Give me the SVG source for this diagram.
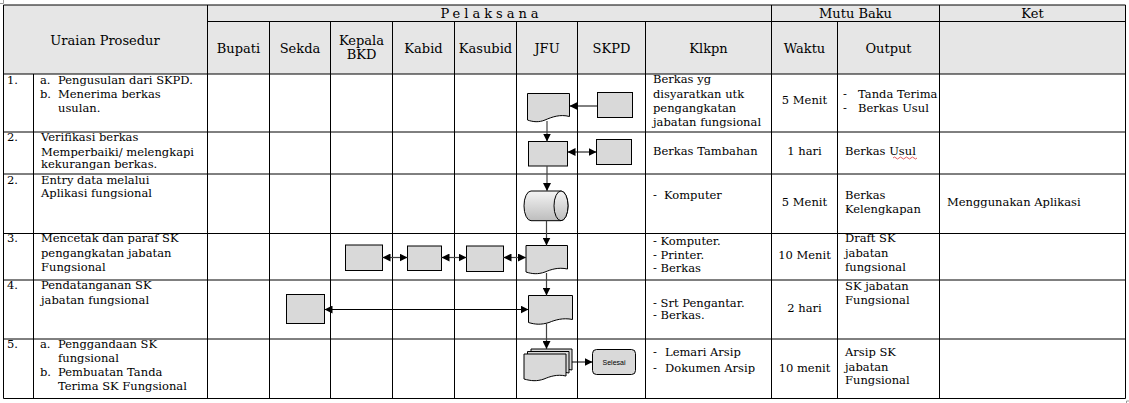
<svg xmlns="http://www.w3.org/2000/svg" width="1129" height="403" viewBox="0 0 1129 403">
<style>
text{font-family:"DejaVu Serif","Liberation Serif",serif;font-size:11.5px;fill:#000}
.c{text-anchor:middle}
.h{font-size:13px}
.g{stroke:#000;stroke-width:1;fill:none}
.box{fill:#d9d9d9;stroke:#000;stroke-width:1}
.con{stroke:#000;stroke-width:1;fill:none}
.cv{stroke:#444;stroke-width:1.2;fill:none}
.sel{font-family:"Liberation Sans","DejaVu Sans",sans-serif;font-size:7px}
</style>
<defs>
<marker id="ah" viewBox="0 0 8 8" refX="8" refY="4" markerWidth="8" markerHeight="8" markerUnits="userSpaceOnUse" orient="auto-start-reverse">
<path d="M0,0 L8,4 L0,8 z" fill="#000"/>
</marker>
<linearGradient id="cyl" x1="0" y1="0" x2="0" y2="1">
<stop offset="0" stop-color="#f4f4f4"/>
<stop offset="1" stop-color="#bdbdbd"/>
</linearGradient>
</defs>
<g id="table">
<rect x="3.5" y="5" width="1122" height="69" fill="#e6e6e6"/>
<path class="g" d="M3.5,5 H1125.5 V398.5 H3.5 Z"/>
<path class="g" d="M207.5,21.5 H1125.5 M3.5,74 H1125.5 M3.5,132 H1125.5 M3.5,174 H1125.5 M3.5,233.5 H1125.5 M3.5,280 H1125.5 M3.5,339 H1125.5"/>
<path class="g" d="M33.5,74 V398.5 M207.5,5 V398.5 M771.5,5 V398.5 M939.5,5 V398.5 M269.5,21.5 V398.5 M330.5,21.5 V398.5 M392.5,21.5 V398.5 M454.5,21.5 V398.5 M516.5,21.5 V398.5 M577.5,21.5 V398.5 M645.5,21.5 V398.5 M837.5,21.5 V398.5"/>
<path d="M3.5,0 V3.5 H0 M1126.5,404 V401 H1129" stroke="#999" stroke-width="1" fill="none"/>
</g>
<g id="header">
<text class="c h" x="105" y="44.5">Uraian Prosedur</text>
<text class="c h" x="491.5" y="18" style="letter-spacing:4px">Pelaksana</text>
<text class="c h" x="855.5" y="18">Mutu Baku</text>
<text class="c h" x="1032.5" y="18">Ket</text>
<text class="c h" x="238.5" y="52.5">Bupati</text>
<text class="c h" x="300" y="52.5">Sekda</text>
<text class="c h" x="361.5" y="44.5">Kepala</text>
<text class="c h" x="361.5" y="59">BKD</text>
<text class="c h" x="423.5" y="52.5">Kabid</text>
<text class="c h" x="485.5" y="52.5">Kasubid</text>
<text class="c h" x="547" y="52.5">JFU</text>
<text class="c h" x="611.5" y="52.5">SKPD</text>
<text class="c h" x="708.5" y="52.5">Klkpn</text>
<text class="c h" x="804.5" y="52.5">Waktu</text>
<text class="c h" x="888.5" y="52.5">Output</text>
</g>
<g id="uraian">
<text x="7" y="84">1.</text>
<text x="40" y="84">a.</text><text x="58" y="84">Pengusulan dari SKPD.</text>
<text x="40" y="98">b.</text><text x="58" y="98">Menerima berkas</text>
<text x="58" y="112">usulan.</text>
<text x="7" y="141">2.</text>
<text x="41" y="141">Verifikasi berkas</text>
<text x="41" y="155.5">Memperbaiki/  melengkapi</text>
<text x="41" y="168">kekurangan  berkas.</text>
<text x="7" y="184">2.</text>
<text x="41" y="184">Entry data melalui</text>
<text x="41" y="197">Aplikasi fungsional</text>
<text x="7" y="242">3.</text>
<text x="41" y="242">Mencetak dan paraf SK</text>
<text x="41" y="257">pengangkatan jabatan</text>
<text x="41" y="270.5">Fungsional</text>
<text x="7" y="289">4.</text>
<text x="41" y="289">Pendatanganan SK</text>
<text x="41" y="304">jabatan fungsional</text>
<text x="7" y="348">5.</text>
<text x="40" y="348">a.</text><text x="58" y="348">Penggandaan SK</text>
<text x="58" y="362">fungsional</text>
<text x="40" y="375.5">b.</text><text x="58" y="375.5">Pembuatan Tanda</text>
<text x="58" y="389.5">Terima SK Fungsional</text>
</g>
<g id="klkpn">
<text x="653" y="83">Berkas yg</text>
<text x="653" y="98">disyaratkan utk</text>
<text x="653" y="112">pengangkatan</text>
<text x="653" y="125.5">jabatan fungsional</text>
<text x="653" y="154.5">Berkas  Tambahan</text>
<text x="653" y="199">-</text><text x="664" y="199">Komputer</text>
<text x="653" y="245">- Komputer.</text>
<text x="653" y="259">- Printer.</text>
<text x="653" y="272">- Berkas</text>
<text x="653" y="307">- Srt Pengantar.</text>
<text x="653" y="319">- Berkas.</text>
<text x="653" y="355.5">-</text><text x="665" y="355.5">Lemari Arsip</text>
<text x="653" y="372">-</text><text x="665" y="372">Dokumen Arsip</text>
</g>
<g id="waktu">
<text class="c" x="804.5" y="104">5 Menit</text>
<text class="c" x="804.5" y="154.5">1 hari</text>
<text class="c" x="804.5" y="205.5">5 Menit</text>
<text class="c" x="804.5" y="259">10 Menit</text>
<text class="c" x="804.5" y="312">2 hari</text>
<text class="c" x="804.5" y="371.5">10 menit</text>
</g>
<g id="output">
<text x="843" y="98">-</text><text x="858" y="98">Tanda Terima</text>
<text x="843" y="112">-</text><text x="858" y="112">Berkas Usul</text>
<text x="845" y="154.5">Berkas  Usul</text>
<path d="M893,158 q1.5,-2 3,0 t3,0 t3,0 t3,0 t3,0 t3,0 t3,0 t3,0" stroke="#d33" stroke-width="0.8" fill="none"/>
<text x="845" y="199">Berkas</text>
<text x="845" y="213">Kelengkapan</text>
<text x="845" y="242">Draft SK</text>
<text x="845" y="257">jabatan</text>
<text x="845" y="270.5">fungsional</text>
<text x="845" y="290">SK jabatan</text>
<text x="845" y="304">Fungsional</text>
<text x="845" y="356">Arsip SK</text>
<text x="845" y="370.5">jabatan</text>
<text x="845" y="384">Fungsional</text>
</g>
<g id="ket">
<text x="947" y="205.5">Menggunakan Aplikasi</text>
</g>
<g id="n1-jfu-doc"><path class="box" d="M527.5,93.5 H569.5 V116.5 C560,114 552,117 545,120 C539,122.5 533,122 527.5,120 Z"/></g>
<g id="n1-skpd"><rect class="box" x="597.5" y="92.5" width="35" height="25"/></g>
<g id="n2-jfu"><rect class="box" x="528.5" y="141.5" width="39" height="24.5"/></g>
<g id="n2-skpd"><rect class="box" x="596.5" y="139.5" width="35" height="25"/></g>
<g id="n3-jfu-db">
<path d="M531,191 H561 A7,14.85 0 0 1 561,220.7 H531 A7,14.85 0 0 1 531,191 Z" fill="url(#cyl)" stroke="#000" stroke-width="1"/>
<ellipse cx="561" cy="205.85" rx="7" ry="14.85" fill="url(#cyl)" stroke="#000" stroke-width="1"/>
</g>
<g id="n4-bkd"><rect class="box" x="345.5" y="245" width="37" height="25.5"/></g>
<g id="n4-kabid"><rect class="box" x="407.5" y="246" width="34" height="24.5"/></g>
<g id="n4-kasubid"><rect class="box" x="466.5" y="246" width="37" height="25.5"/></g>
<g id="n4-jfu-doc"><path class="box" d="M526,245.5 H567.5 V269 C558,267 551,269.5 545,272 C538,274.5 532,274 526,272 Z"/></g>
<g id="n5-sekda"><rect class="box" x="286.5" y="294.5" width="38" height="29"/></g>
<g id="n5-jfu-doc"><path class="box" d="M528.5,295.5 H572.5 V319.5 C563,317.5 555,320 549,322.5 C541,325 535,324.5 528.5,322.5 Z"/></g>
<g id="n6-jfu-multidoc">
<path class="box" d="M531,349 H572 V370 C563,368 556,370.5 550,373 C543,375.5 537,375 531,373 Z"/>
<path class="box" d="M527.5,351.5 H569 V373 C560,371 553,373.5 547,376 C540,378.5 534,378 527.5,376 Z"/>
<path class="box" d="M524,354 H566 V376 C557,374 550,376.5 544,379 C537,381.5 531,381 524,379 Z"/>
</g>
<g id="n6-selesai">
<rect class="box" x="592.5" y="349.5" width="43" height="25" rx="4"/>
<text class="c sel" x="614" y="364.5">Selesai</text>
</g>
<g id="connectors">
<line class="con" x1="597.5" y1="106" x2="569.5" y2="106" marker-end="url(#ah)"/>
<line class="cv" x1="547" y1="121" x2="547" y2="141.5" marker-end="url(#ah)"/>
<line class="con" x1="567.5" y1="152" x2="596.5" y2="152" marker-start="url(#ah)" marker-end="url(#ah)"/>
<line class="cv" x1="547" y1="166" x2="547" y2="191" marker-end="url(#ah)"/>
<line class="cv" x1="546.5" y1="220.7" x2="546.5" y2="245.5" marker-end="url(#ah)"/>
<line class="cv" x1="382.5" y1="257.5" x2="407.5" y2="257.5" marker-start="url(#ah)" marker-end="url(#ah)"/>
<line class="cv" x1="441.5" y1="257.5" x2="466.5" y2="257.5" marker-start="url(#ah)" marker-end="url(#ah)"/>
<line class="cv" x1="503.5" y1="257.5" x2="526" y2="257.5" marker-start="url(#ah)" marker-end="url(#ah)"/>
<line class="cv" x1="546.5" y1="273" x2="546.5" y2="295.5" marker-end="url(#ah)"/>
<line class="con" x1="324.5" y1="309.5" x2="528.5" y2="309.5" marker-start="url(#ah)" marker-end="url(#ah)"/>
<line class="cv" x1="546.5" y1="323.5" x2="546.5" y2="349" marker-end="url(#ah)"/>
<line class="con" x1="572" y1="362" x2="592.5" y2="362" marker-end="url(#ah)"/>
</g>
</svg>
